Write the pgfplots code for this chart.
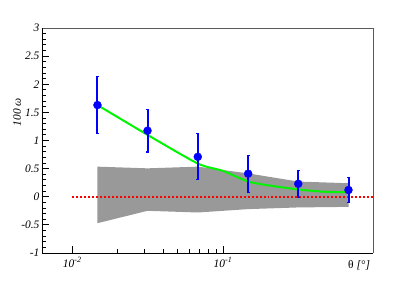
\documentclass[border=0pt]{standalone}
\usepackage{pgfplots}
\pgfplotsset{compat=1.18}
\usepackage{fontspec}
\setmainfont{Liberation Serif}
\begin{document}
\begin{tikzpicture}
\begin{axis}[
  scale only axis, width=331bp, height=225bp,
  xmode=log, xmin=0.0063, xmax=0.99,
  ymin=-1, ymax=3,
  axis line style={draw=none},
  tick align=inside, xtick pos=left, ytick pos=left,
  xtick={0.01,0.1},
  xticklabels={\textit{10\textsuperscript{-2}},\textit{10\textsuperscript{-1}}},
  ytick={-1,-0.5,0,0.5,1,1.5,2,2.5,3},
  yticklabels={\textit{-1},\textit{-0.5},\textit{0},\textit{0.5},\textit{1},\textit{1.5},\textit{2},\textit{2.5},\textit{3}},
  minor ytick={-0.9,-0.8,-0.7,-0.6,-0.4,-0.3,-0.2,-0.1,0.1,0.2,0.3,0.4,0.6,0.7,0.8,0.9,1.1,1.2,1.3,1.4,1.6,1.7,1.8,1.9,2.1,2.2,2.3,2.4,2.6,2.7,2.8,2.9},
  major tick length=7bp, minor tick length=4bp,
  every tick/.style={black, line width=0.8pt},
  tick label style={font=\fontsize{11.5}{13}\selectfont},
  yticklabel style={xshift=1bp},
  xticklabel style={yshift=-1bp},
  ylabel={\textit{100 ω}},
  ylabel style={at={(axis description cs:-0.075,0.625)}, anchor=center, font=\fontsize{11.5}{13}\selectfont},
  xlabel={θ \textit{[°]}},
  xlabel style={at={(axis description cs:0.958,-0.053)}, anchor=center, font=\fontsize{11.5}{13}\selectfont},
  clip=false,
]
% gray band
\addplot[fill=black!40, draw=none] coordinates {
 (0.0147,0.535) (0.0316,0.505) (0.0681,0.535) (0.147,0.415) (0.316,0.27) (0.681,0.24)
 (0.681,-0.18) (0.316,-0.19) (0.147,-0.22) (0.0681,-0.28) (0.0316,-0.25) (0.0147,-0.47)
} -- cycle;
% red dotted zero line
\addplot[red, line width=1.9pt, dash pattern=on 2pt off 2pt] coordinates {(0.01,0) (0.99,0)};
% green curve
\addplot[color={rgb,255:red,0;green,245;blue,0}, line width=2pt, smooth, tension=0.4] coordinates {
 (0.0147,1.63) (0.0316,1.10) (0.0681,0.59) (0.1,0.46) (0.147,0.27) (0.215,0.19) (0.316,0.13) (0.46,0.09) (0.681,0.08)
};
% error bars
\pgfplotsset{ebar/.style={color={rgb,255:red,0;green,0;blue,255}, line width=2pt, mark=-, mark size=1.6pt, mark options={solid, line width=1.2pt}}}
\addplot[ebar] coordinates {(0.0147,1.12) (0.0147,2.14)};
\addplot[ebar] coordinates {(0.0316,0.795) (0.0316,1.555)};
\addplot[ebar] coordinates {(0.0681,0.30) (0.0681,1.12)};
\addplot[ebar] coordinates {(0.147,0.08) (0.147,0.74)};
\addplot[ebar] coordinates {(0.316,-0.01) (0.316,0.47)};
\addplot[ebar] coordinates {(0.681,-0.10) (0.681,0.34)};
% data points
\addplot[color={rgb,255:red,0;green,0;blue,255}, only marks, mark=*, mark size=4pt] coordinates {
 (0.0147,1.63) (0.0316,1.175) (0.0681,0.71) (0.147,0.41) (0.316,0.23) (0.681,0.12)
};
\draw[black!65, line width=0.8pt] (rel axis cs:0,1) -- (rel axis cs:1,1) -- (rel axis cs:1,0);
\draw[black, line width=0.9pt] (rel axis cs:0,1) -- (rel axis cs:0,0) -- (rel axis cs:1,0);
\end{axis}
\path ([shift={(-42bp,-28bp)}]current axis.south west) rectangle ([shift={(42bp,28bp)}]current axis.north east);
\end{tikzpicture}
\end{document}
